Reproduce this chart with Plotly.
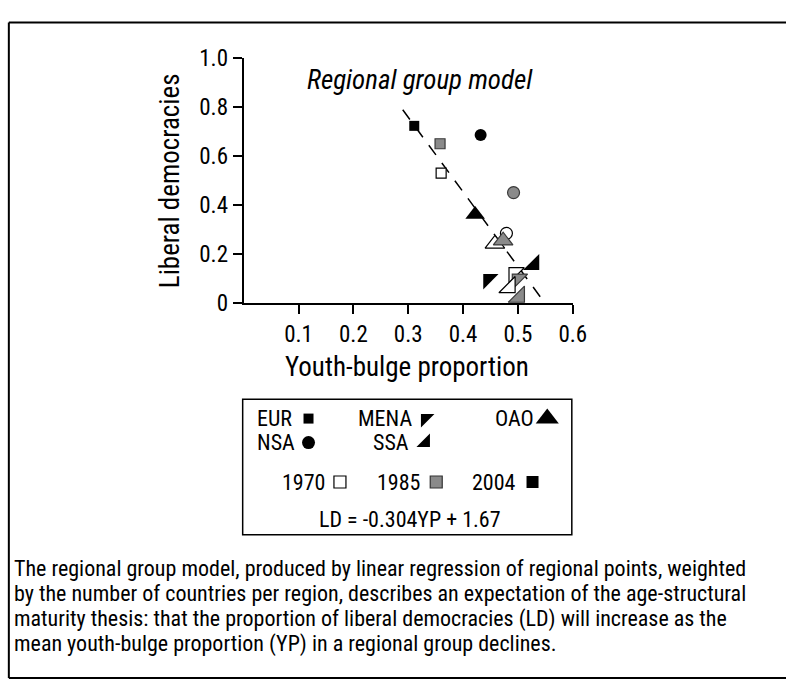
import plotly.graph_objects as go

# ---------------- data ----------------
regions = ["EUR", "NSA", "OAO", "MENA", "SSA"]
years = ["1970", "1985", "2004"]
# youth-bulge proportion (YP) and liberal democracies (LD) per region, years 1970, 1985, 2004
yp_EUR = [0.360, 0.358, 0.311]
ld_EUR = [0.530, 0.650, 0.723]
yp_NSA = [0.479, 0.492, 0.432]
ld_NSA = [0.285, 0.451, 0.686]
yp_OAO = [0.458, 0.473, 0.422]
ld_OAO = [0.242, 0.255, 0.362]
yp_MENA = [0.493, 0.499, 0.446]
ld_MENA = [0.124, 0.098, 0.098]
yp_SSA = [0.485, 0.502, 0.529]
ld_SSA = [0.065, 0.026, 0.157]

fit_slope = -3.04
fit_intercept = 1.67
fit_x = [0.29, 0.55]

x_ticks = [0.1, 0.2, 0.3, 0.4, 0.5, 0.6]
x_tick_labels = ["0.1", "0.2", "0.3", "0.4", "0.5", "0.6"]
y_ticks = [0, 0.2, 0.4, 0.6, 0.8, 1.0]
y_tick_labels = ["0", "0.2", "0.4", "0.6", "0.8", "1.0"]

title_text = "Regional group model"
x_title = "Youth-bulge proportion"
y_title = "Liberal democracies"
equation_text = "LD = -0.304YP + 1.67"
caption_lines = [
    "The regional group model, produced by linear regression of regional points, weighted",
    "by the number of countries per region, describes an expectation of the age-structural",
    "maturity thesis: that the proportion of liberal democracies (LD) will increase as the",
    "mean youth-bulge proportion (YP) in a regional group declines.",
]

# ---------------- styles ----------------
W, H = 800, 694
FONT = "Liberation Sans Narrow, Arial Narrow, Roboto Condensed, Liberation Sans, sans-serif"
year_fill = {"1970": "white", "1985": "#8a8a8a", "2004": "black"}
year_line = {"1970": "black", "1985": "#3a3a3a", "2004": "black"}
symbols = {"EUR": "square", "NSA": "circle", "OAO": "triangle-up",
           "MENA": "triangle-nw", "SSA": "triangle-se"}
sizes = {"EUR": 10, "NSA": 12, "OAO": 17, "MENA": 17, "SSA": 18}
data = {"EUR": (yp_EUR, ld_EUR), "NSA": (yp_NSA, ld_NSA), "OAO": (yp_OAO, ld_OAO),
        "MENA": (yp_MENA, ld_MENA), "SSA": (yp_SSA, ld_SSA)}


def px(x):
    return x / W


def py(y):
    return 1 - y / H


fig = go.Figure()

# regression line
fit_y = [fit_slope * v + fit_intercept for v in fit_x]
fig.add_trace(go.Scatter(x=fit_x, y=fit_y, mode="lines",
                         line=dict(color="black", width=1.5, dash="12px,10px"),
                         showlegend=False, hoverinfo="skip", cliponaxis=False))

for r in regions:
    xs, ys = data[r]
    for i, yr in enumerate(years):
        fig.add_trace(go.Scatter(
            x=[xs[i]], y=[ys[i]], mode="markers", name=f"{r} {yr}",
            marker=dict(symbol=symbols[r], size=sizes[r], color=year_fill[yr],
                        line=dict(color=year_line[yr], width=1.2 if yr != "2004" else 0)),
            showlegend=False, cliponaxis=False))

# ---------- legend keys on an overlay pixel axis ----------
leg_keys = [
    ("EUR", 314, 422, "square", 10, "black", 0),
    ("MENA", 433, 422, "triangle-nw", 15, "black", 0),
    ("OAO", 557, 422, "triangle-up", 20, "black", 0),
    ("NSA", 314, 447, "circle", 13, "black", 0),
    ("SSA", 433, 447, "triangle-se", 15, "black", 0),
    ("1970", 346, 488, "square", 12, "white", 1.2),
    ("1985", 444, 488, "square", 12, "#8a8a8a", 1.2),
    ("2004", 542, 488, "square", 12, "black", 0),
]
for name, kx, ky, sym, sz, col, lw in leg_keys:
    fig.add_trace(go.Scatter(
        x=[kx], y=[ky], mode="markers", xaxis="x2", yaxis="y2",
        marker=dict(symbol=sym, size=sz, color=col,
                    line=dict(color="#333" if col != "white" else "black", width=lw)),
        showlegend=False, hoverinfo="skip"))

leg_texts = [
    ("EUR", 260, 422), ("MENA", 362, 422), ("OAO", 502, 422),
    ("NSA", 260, 447), ("SSA", 378, 447),
    ("1970", 285, 488), ("1985", 382, 488), ("2004", 478, 488),
]

annotations = []
for t, tx, ty in leg_texts:
    annotations.append(dict(text=t, x=px(tx), y=py(ty), xref="paper", yref="paper",
                            xanchor="left", yanchor="middle", showarrow=False,
                            font=dict(family=FONT, size=22, color="black")))
annotations.append(dict(text=equation_text, x=px(417), y=py(527), xref="paper", yref="paper",
                        xanchor="center", yanchor="middle", showarrow=False,
                        font=dict(family=FONT, size=22, color="black")))
annotations.append(dict(text="<i>" + title_text + "</i>", x=px(427), y=py(70), xref="paper",
                        yref="paper", xanchor="center", yanchor="middle", showarrow=False,
                        font=dict(family=FONT, size=27, color="black")))
annotations.append(dict(text=x_title, x=px(414), y=py(368), xref="paper", yref="paper",
                        xanchor="center", yanchor="middle", showarrow=False,
                        font=dict(family=FONT, size=27, color="black")))
annotations.append(dict(text=y_title, x=px(173), y=py(174), xref="paper", yref="paper",
                        xanchor="center", yanchor="middle", showarrow=False, textangle=-90,
                        font=dict(family=FONT, size=27, color="black")))
for i, line in enumerate(caption_lines):
    annotations.append(dict(text=line, x=px(12), y=py(578 + 26.3 * i), xref="paper", yref="paper",
                            xanchor="left", yanchor="middle", showarrow=False,
                            font=dict(family=FONT, size=22, color="black")))

frame = dict(color="black", width=2)
shapes = [
    # outer frame: top, left, bottom (right side runs off the page as in the scan)
    dict(type="line", xref="paper", yref="paper", x0=px(9), x1=1, y0=py(10), y1=py(10), line=frame),
    dict(type="line", xref="paper", yref="paper", x0=px(9), x1=px(9), y0=py(10), y1=py(692), line=frame),
    dict(type="line", xref="paper", yref="paper", x0=px(9), x1=1, y0=py(692), y1=py(692), line=frame),
    # legend box
    dict(type="rect", xref="paper", yref="paper", x0=px(247), x1=px(582), y0=py(543), y1=py(402),
         line=dict(color="black", width=1.5)),
]

fig.update_layout(
    width=W, height=H,
    margin=dict(l=0, r=0, t=0, b=0, pad=0),
    paper_bgcolor="white", plot_bgcolor="rgba(0,0,0,0)",
    showlegend=False,
    font=dict(family=FONT, color="black"),
    xaxis=dict(domain=[px(248), px(583)], range=[0, 0.6], tickvals=x_ticks, ticktext=x_tick_labels,
               showgrid=False, zeroline=False, showline=True, linecolor="black", linewidth=2,
               ticks="outside", ticklen=9, tickwidth=2, tickcolor="black",
               tickfont=dict(family=FONT, size=23), anchor="y", fixedrange=True),
    yaxis=dict(domain=[py(302), py(46.7)], range=[0, 1.0], tickvals=y_ticks, ticktext=y_tick_labels,
               showgrid=False, zeroline=False, showline=True, linecolor="black", linewidth=2,
               ticks="outside", ticklen=9, tickwidth=2, tickcolor="black",
               tickfont=dict(family=FONT, size=23), anchor="x", fixedrange=True),
    xaxis2=dict(domain=[0, 1], range=[0, W], visible=False, anchor="y2", fixedrange=True),
    yaxis2=dict(domain=[0, 1], range=[H, 0], visible=False, anchor="x2", fixedrange=True),
    annotations=annotations,
    shapes=shapes,
)

fig.write_html("out.html", config={"displayModeBar": False},
               post_script="document.body.style.margin='0';document.body.style.overflow='hidden';")
